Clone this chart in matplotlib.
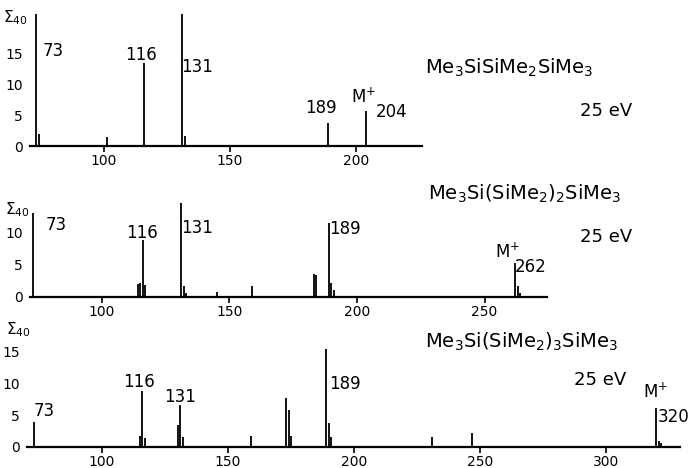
import matplotlib
matplotlib.use("Agg")
import matplotlib.pyplot as plt

# spectrum 1: Me3SiSiMe2SiMe3
p1_mz = [73, 74, 101, 116, 131, 132, 189, 204]
p1_int = [21.3, 2.0, 1.4, 13.4, 21.3, 1.6, 3.7, 5.6]

# spectrum 2: Me3Si(SiMe2)2SiMe3
p2_mz = [73, 114, 115, 116, 117, 131, 132, 133, 145, 159, 183, 184, 189, 190, 191, 262, 263, 264]
p2_int = [12.9, 2.0, 2.2, 8.8, 1.9, 14.5, 1.7, 0.6, 0.7, 1.7, 3.6, 3.4, 11.4, 2.2, 1.1, 5.3, 1.7, 0.6]

# spectrum 3: Me3Si(SiMe2)3SiMe3
p3_mz = [73, 115, 116, 117, 130, 131, 132, 159, 173, 174, 175, 189, 190, 191, 231, 247, 320, 321, 322]
p3_int = [4.0, 1.7, 8.8, 1.4, 3.4, 6.7, 1.6, 1.7, 7.8, 5.8, 1.7, 15.5, 3.8, 1.6, 1.5, 2.2, 6.2, 1.0, 0.6]

formulas = [r'Me$_3$SiSiMe$_2$SiMe$_3$',
            r'Me$_3$Si(SiMe$_2$)$_2$SiMe$_3$',
            r'Me$_3$Si(SiMe$_2$)$_3$SiMe$_3$']
energy = '25 eV'

W, H = 692, 468


def fx(px):
    return px / W


def fy(py):
    return 1 - py / H


def main():
    plt.rcParams['mathtext.fontset'] = 'dejavusans'
    fig = plt.figure(figsize=(6.92, 4.68), dpi=100)

    # (left px, right px, baseline px, top px, xlim, ylim top, yticks, xticks)
    panels = [
        (30, 422, 146, 14, (70.6, 226.2), 21.3, [0, 5, 10, 15], [100, 150, 200]),
        (30, 547, 297, 203, (71.8, 274.5), 14.5, [0, 5, 10], [100, 150, 200, 250]),
        (27, 680, 447, 345, (70.2, 329.4), 16.1, [0, 5, 10, 15], [100, 150, 200, 250, 300]),
    ]
    data = [(p1_mz, p1_int), (p2_mz, p2_int), (p3_mz, p3_int)]

    # peak labels in data coords
    labels = [
        [('73', 80.0, 15.3), ('116', 114.7, 14.7), ('131', 136.9, 12.7),
         ('189', 186.1, 6.1), (r'M$^{+}$', 202.8, 7.9), ('204', 214.3, 5.5)],
        [('73', 82.0, 11.1), ('116', 115.7, 9.8), ('131', 137.3, 10.6),
         ('189', 195.3, 10.5), (r'M$^{+}$', 259.2, 6.9), ('262', 268.2, 4.6)],
        [('73', 77.0, 5.7), ('116', 114.7, 10.3), ('131', 131.0, 7.9),
         ('189', 196.4, 10.0), (r'M$^{+}$', 319.8, 8.7), ('320', 327.0, 4.7)],
    ]
    sigma_pos = [(15, 18), (17, 210), (18, 330)]
    formula_pos = [(425, 68), (428, 194), (425, 342)]
    ev_pos = [(606, 111), (606, 237), (600, 380)]

    for i, (l, r, base, top, xlim, ytop, yt, xt) in enumerate(panels):
        ax = fig.add_axes([fx(l), fy(base), fx(r - l), (base - top) / H])
        mz, inten = data[i]
        ax.vlines(mz, 0, inten, color='k', lw=1.3)
        ax.set_xlim(*xlim)
        ax.set_ylim(0, ytop)
        for s in ['top', 'right', 'left']:
            ax.spines[s].set_visible(False)
        ax.spines['bottom'].set_linewidth(1.6)
        ax.set_yticks(yt)
        ax.set_xticks(xt)
        ax.tick_params(axis='y', length=0, pad=5, labelsize=10)
        ax.tick_params(axis='x', length=4, width=1.2, pad=2, labelsize=10)
        ax.patch.set_alpha(0)
        for txt, x, y in labels[i]:
            ax.text(x, y, txt, ha='center', va='center', fontsize=12)

        fig.text(fx(sigma_pos[i][0]), fy(sigma_pos[i][1]), r'$\Sigma_{40}$',
                 ha='center', va='center', fontsize=11)
        fig.text(fx(formula_pos[i][0]), fy(formula_pos[i][1]), formulas[i],
                 ha='left', va='center', fontsize=14)
        fig.text(fx(ev_pos[i][0]), fy(ev_pos[i][1]), energy,
                 ha='center', va='center', fontsize=13)

    fig.savefig('out.png', dpi=100)


if __name__ == '__main__':
    main()
